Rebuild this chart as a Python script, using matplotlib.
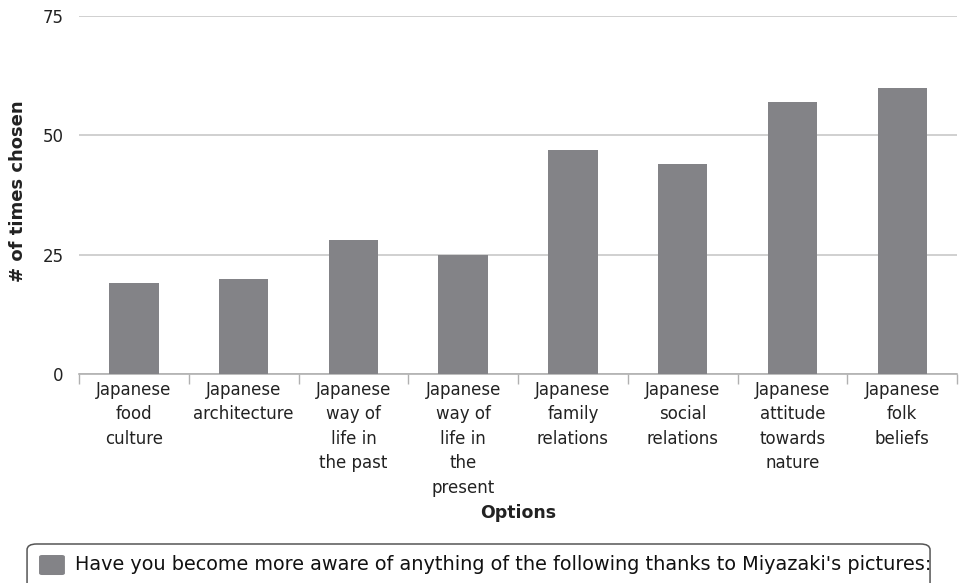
import matplotlib.pyplot as plt
from matplotlib.patches import FancyBboxPatch

categories = [
    "Japanese\nfood\nculture",
    "Japanese\narchitecture",
    "Japanese\nway of\nlife in\nthe past",
    "Japanese\nway of\nlife in\nthe\npresent",
    "Japanese\nfamily\nrelations",
    "Japanese\nsocial\nrelations",
    "Japanese\nattitude\ntowards\nnature",
    "Japanese\nfolk\nbeliefs",
]
counts = [19, 20, 28, 25, 47, 44, 57, 60]
y_ticks = [0, 25, 50, 75]
series_name = "Have you become more aware of anything of the following thanks to Miyazaki's pictures:"

bar_color = "#838387"
text_color = "#222222"

fig = plt.figure(figsize=(9.59, 5.83), dpi=100)
ax = fig.add_axes([0.0824, 0.3585, 0.9156, 0.614])

x = range(len(categories))
ax.bar(x, counts, width=0.45, color=bar_color, zorder=3)

ax.set_xlim(-0.5, len(categories) - 0.5)
ax.set_ylim(0, 75)
ax.set_yticks(y_ticks)
ax.yaxis.grid(True, color="#c8c8c8", linewidth=1.2, zorder=0)
ax.tick_params(axis="y", length=0, pad=11, labelsize=12, colors=text_color)

# category labels sit between boundary tick marks
ax.set_xticks(list(x))
ax.set_xticklabels(categories, fontsize=12, linespacing=1.46, va="top", color=text_color)
ax.tick_params(axis="x", length=0, pad=5)
ax.set_xticks([i - 0.5 for i in range(len(categories) + 1)], minor=True)
ax.tick_params(axis="x", which="minor", length=7, color="#b0b0b0", width=1)

for side in ["left", "right", "top"]:
    ax.spines[side].set_visible(False)
ax.spines["bottom"].set_color("#b0b0b0")
ax.spines["bottom"].set_linewidth(1.2)

ax.set_ylabel("# of times chosen", fontsize=13, fontweight="bold", color=text_color)
ax.yaxis.set_label_coords(-0.059, 0.511)
fig.text(0.5405, 0.12, "Options", ha="center", va="center", fontsize=12.5,
         fontweight="bold", color=text_color)

# legend box along the bottom, running off the lower edge
box = FancyBboxPatch((0.0282, -0.05), 0.9416, 0.1169, boxstyle="round,pad=0,rounding_size=0.01",
                     transform=fig.transFigure, facecolor="white", edgecolor="#555555", linewidth=1.1)
fig.patches.append(box)
swatch = FancyBboxPatch((0.0407, 0.0137), 0.027, 0.0343, boxstyle="round,pad=0,rounding_size=0.003",
                        transform=fig.transFigure, facecolor=bar_color, edgecolor="none")
fig.patches.append(swatch)
fig.text(0.0782, 0.031, series_name, ha="left", va="center", fontsize=13.9, color="#111111")

fig.savefig("out.png", dpi=100)
